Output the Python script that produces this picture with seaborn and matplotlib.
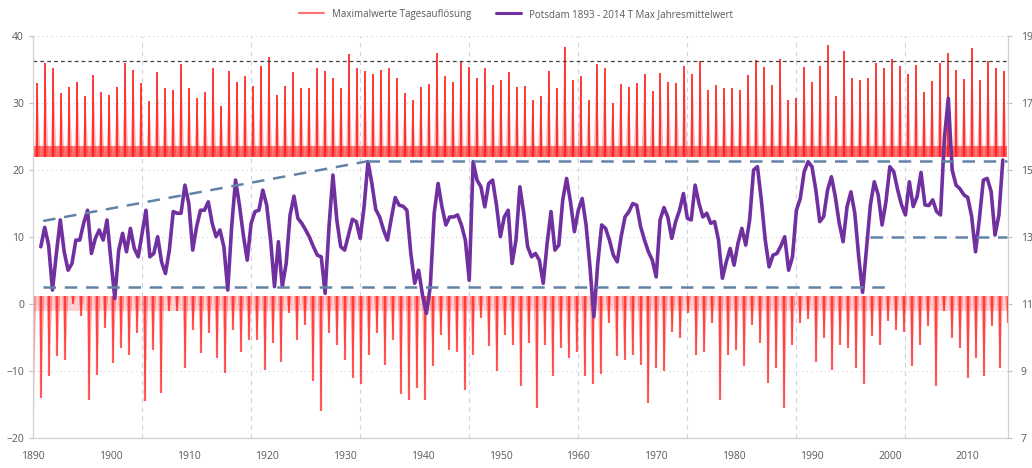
import numpy as np
import pandas as pd
import matplotlib
matplotlib.use("Agg")
import matplotlib.pyplot as plt
from matplotlib.lines import Line2D
import seaborn as sns

sns.set_style("white")
plt.rcParams['font.family'] = ['Open Sans', 'DejaVu Sans']

# highest daily Tmax of each summer (1893 .. 2014), deg C, left axis
summer_max = [
    33.0, 36.0, 35.2, 31.5, 32.4, 33.1, 31.0, 34.2, 31.7, 31.2,
    32.4, 36.0, 34.9, 33.0, 30.3, 34.7, 32.2, 32.0, 35.8, 32.2,
    30.8, 31.7, 35.2, 29.5, 34.8, 33.2, 34.0, 32.5, 35.6, 36.8,
    31.2, 32.5, 34.7, 32.2, 32.3, 35.2, 34.8, 33.8, 32.3, 37.3,
    35.2, 34.8, 34.4, 35.0, 35.2, 33.8, 31.5, 30.4, 32.4, 32.9,
    37.4, 34.0, 33.2, 36.2, 35.4, 33.8, 35.2, 32.7, 33.4, 34.7,
    32.4,
    32.5, 30.5, 31.1, 34.8, 32.3, 38.4, 33.4, 34.0, 30.4, 35.9,
    35.2, 30.0, 32.9, 32.4, 33.0, 34.4, 31.8, 34.5, 33.2, 33.0,
    35.5, 34.4, 36.3, 31.9, 32.7, 32.2, 32.2, 32.0, 34.2, 36.4,
    35.4, 32.7, 36.5, 30.4, 30.7, 35.4, 33.2, 35.5, 38.7, 31.0,
    37.7, 33.7, 33.5, 33.8, 36.0, 35.3, 36.5, 35.5, 34.3, 35.7,
    31.7, 33.3, 36.0, 37.4, 35.0, 33.6, 38.2, 33.5, 36.3, 35.2,
    34.8,
]

# lowest daily Tmax of each winter, deg C, left axis
winter_min = [
    -16.0, -14.0, -10.8, -7.8, -8.3, 0.0, -1.8, -14.3, -10.6, -3.6,
    -8.8, -6.6, -7.6, -4.3, -14.5, -6.8, -13.3, -1.1, -1.1, -9.6,
    -3.8, -7.3, -4.3, -8.1, -10.3, -3.8, -7.1, -5.3, -5.3, -9.8,
    -5.8, -8.6, -1.3, -5.3, -3.1, -11.5, -16.0, -4.3, -6.1, -8.3,
    -11.0, -12.0, -7.6, -4.3, -9.1, -5.3, -13.5, -14.3, -12.5, -14.3,
    -9.3, -4.6, -6.8, -7.1, -12.8, -7.6, -2.1, -6.3, -10.0, -4.6,
    -6.1,
    -12.3, -5.8, -15.5, -6.1, -10.8, -6.6, -8.1, -7.1, -10.8, -12.0,
    -10.5, -2.8, -7.8, -8.3, -7.6, -9.1, -14.8, -9.6, -10.0, -4.1,
    -5.1, -1.3, -7.6, -7.1, -2.8, -14.3, -7.6, -6.8, -9.3, -3.1,
    -5.8, -11.8, -9.6, -15.5, -6.1, -2.8, -2.3, -8.6, -5.1, -9.8,
    -6.1, -6.6, -9.6, -12.0, -4.8, -6.1, -2.5, -3.8, -4.1, -9.3,
    -6.1, -3.3, -12.3, -1.1, -5.1, -6.6, -11.0, -8.1, -10.8, -3.3,
    -9.6, -2.8,
]

# running annual mean of Tmax, deg C (right axis), read every half axis-year from 1891
jahresmittel = [
    12.71, 13.29, 12.76, 11.42, 12.51, 13.51, 12.56, 12.01, 12.21, 12.91,
    12.91, 13.41, 13.80, 12.51, 12.96, 13.21, 12.91, 13.51, 12.31, 11.17,
    12.61, 13.11, 12.56, 13.26, 12.66, 12.41, 13.11, 13.80, 12.41, 12.51,
    13.01, 12.26, 11.91, 12.61, 13.76, 13.71, 13.71, 14.55, 14.00, 12.61,
    13.31, 13.80,
    13.80, 14.05, 13.41, 13.01, 13.21, 12.71, 11.42, 13.31, 14.70, 13.95,
    13.06, 12.31, 13.41, 13.76, 13.80, 14.40, 13.95, 12.91, 11.52, 12.86,
    11.52, 12.21, 13.66, 14.22, 13.56, 13.41, 13.21, 12.99, 12.71, 12.46,
    12.41, 11.32, 13.31, 14.85, 13.51, 12.71, 12.61, 13.06, 13.53, 13.46,
    12.96, 13.90, 15.25,
    14.60, 13.82, 13.60, 13.21, 12.91, 13.56, 14.18, 13.95, 13.92, 13.80,
    12.51, 11.62, 12.01, 11.27, 10.72, 11.52, 13.71, 14.60, 13.90, 13.36,
    13.60, 13.60, 13.66, 13.36, 12.91, 11.71, 15.25, 14.70, 14.50, 13.90,
    14.60, 14.70, 13.95, 13.01, 13.60, 13.80, 12.21, 12.91, 14.50, 13.71,
    12.71, 12.41,
    12.51, 12.31, 11.62, 12.81, 13.76, 12.61, 12.76, 14.10, 14.75, 14.05,
    13.16, 13.80, 14.15, 13.36, 12.11, 10.62, 12.21, 13.36, 13.26, 12.91,
    12.46, 12.26, 13.01, 13.60, 13.76, 14.00, 13.95, 13.31, 12.91, 12.56,
    12.31, 11.81, 13.51, 13.88, 13.59, 12.96, 13.46, 13.80, 14.30, 13.56,
    13.51, 14.55, 14.00,
    13.60, 13.71, 13.41, 13.46, 12.91, 11.77, 12.26, 12.66, 12.16, 12.81,
    13.26, 12.76, 13.51, 15.00, 15.10, 14.10, 12.91, 12.11, 12.46, 12.51,
    12.73, 13.01, 12.01, 12.41, 13.80, 14.15, 14.95, 15.25, 15.10, 14.40,
    13.46, 13.61, 14.40, 14.80, 14.20, 13.41, 12.86, 13.90, 14.35, 13.71,
    12.41, 11.35,
    12.66, 13.96, 14.65, 14.26, 13.36, 14.06, 15.10, 14.95, 14.41, 13.96,
    13.66, 14.65, 13.91, 14.21, 14.93, 13.96, 13.94, 14.11, 13.76, 13.66,
    15.95, 17.14, 15.00, 14.55, 14.44, 14.26, 14.18, 13.61, 12.56, 13.56,
    14.70, 14.75, 14.36, 13.06, 13.66, 15.30,
]

# hand drawn envelope lines (x in axis years, y on right axis)
env_rise_x, env_rise_y = [1891.3, 1932.9], [13.48, 15.26]
env_top_x, env_top_y = [1932.9, 2015.0], [15.26, 15.26]
env_low_x, env_low_y = [1891.3, 2000.0], [11.5, 11.5]
env_new_x, env_new_y = [1997.4, 2015.0], [13.0, 13.0]
record_line = 36.3

# the original axis: 1 Jan 1893 sits at 1890.0 and one calendar year spans 1.0255 axis units
AX_START = 1890.0
AX_STEP = 1.0255

RED = '#ff1a1a'
PURPLE = '#7030a0'
BLUE = '#6283a6'
GREY = '#595959'

summer_pos = AX_START + 0.55 * AX_STEP + np.arange(len(summer_max)) * AX_STEP
winter_pos = AX_START + 0.05 + np.arange(len(winter_min)) * AX_STEP
df = pd.DataFrame({'x': 1891.0 + 0.5 * np.arange(len(jahresmittel)), 'tmax': jahresmittel})

fig = plt.figure(figsize=(10.32, 4.68), dpi=100)
ax = fig.add_axes([0.032, 0.064, 0.945, 0.859])
ax2 = ax.twinx()

# grid
for v in range(-10, 41, 10):
    ax.axhline(v, color='#d0d0e4', lw=0.8, ls=(0, (1, 3)), zorder=0)
for gx in np.arange(1904, 2015, 14):
    ax.axvline(gx, color='#d0d0e4', lw=0.8, ls=(0, (4, 4)), zorder=0)

# red daily extremes
ax.fill_between([1890.1, 2015.0], 22.0, 23.6, color=RED, alpha=0.6, lw=0, zorder=1)
for p, v in zip(summer_pos, summer_max):
    ax.fill([p - 0.38, p, p + 0.38], [22.0, v, 22.0], color=RED, alpha=0.35, lw=0, zorder=1)
ax.vlines(summer_pos, 22.0, summer_max, color=RED, lw=1.4, alpha=0.85, zorder=2)

ax.fill_between([1890.1, 2015.2], -1.0, 1.2, color=RED, alpha=0.2, lw=0, zorder=1)
for p, v in zip(winter_pos, winter_min):
    ax.fill([p - 0.38, p, p + 0.38], [1.2, v, 1.2], color=RED, alpha=0.35, lw=0, zorder=1)
ax.vlines(winter_pos, 1.2, winter_min, color=RED, lw=1.6, alpha=0.7, zorder=2)

ax.axhline(record_line, color='#404040', lw=0.9, ls=(0, (3, 2.5)), zorder=3)

# purple annual mean on the right axis
sns.lineplot(data=df, x='x', y='tmax', ax=ax2, color=PURPLE, lw=2.6, zorder=4)
for xs, ys in [(env_rise_x, env_rise_y), (env_top_x, env_top_y),
               (env_low_x, env_low_y), (env_new_x, env_new_y)]:
    ax2.plot(xs, ys, color=BLUE, lw=1.8, ls=(0, (5, 3.5)), zorder=5)

ax.set_xlim(1890, 2015.2)
ax.set_ylim(-20, 40)
ax2.set_ylim(7, 19)
ax.set_yticks(range(-20, 41, 10))
ax2.set_yticks(range(7, 20, 2))
ax.set_xticks(range(1890, 2011, 10))
ax.set_xticks(range(1890, 2016, 5), minor=True)
ax.set_xlabel('')
ax2.set_xlabel('')
ax2.set_ylabel('')

for a in (ax, ax2):
    a.tick_params(labelsize=7.5, labelcolor=GREY, color='#bfbfbf', length=3, width=0.8)
    for s in a.spines.values():
        s.set_color('#d0d0d0')
        s.set_linewidth(0.8)
    a.spines['top'].set_visible(False)
ax.tick_params(axis='x', which='minor', color='#bfbfbf', length=2)
ax.tick_params(axis='x', pad=6)
ax2.tick_params(axis='y', pad=6)

handles = [Line2D([], [], color='#ff7070', lw=1.5),
           Line2D([], [], color=PURPLE, lw=2.2)]
labels = ['Maximalwerte Tagesauflösung', 'Potsdam 1893 - 2014 T Max Jahresmittelwert']
fig.legend(handles, labels, loc='upper center', bbox_to_anchor=(0.5, 1.0), ncol=2,
           frameon=False, fontsize=7, labelcolor=GREY, handlelength=2.6,
           columnspacing=2.5)

fig.savefig('out.png', dpi=100)
